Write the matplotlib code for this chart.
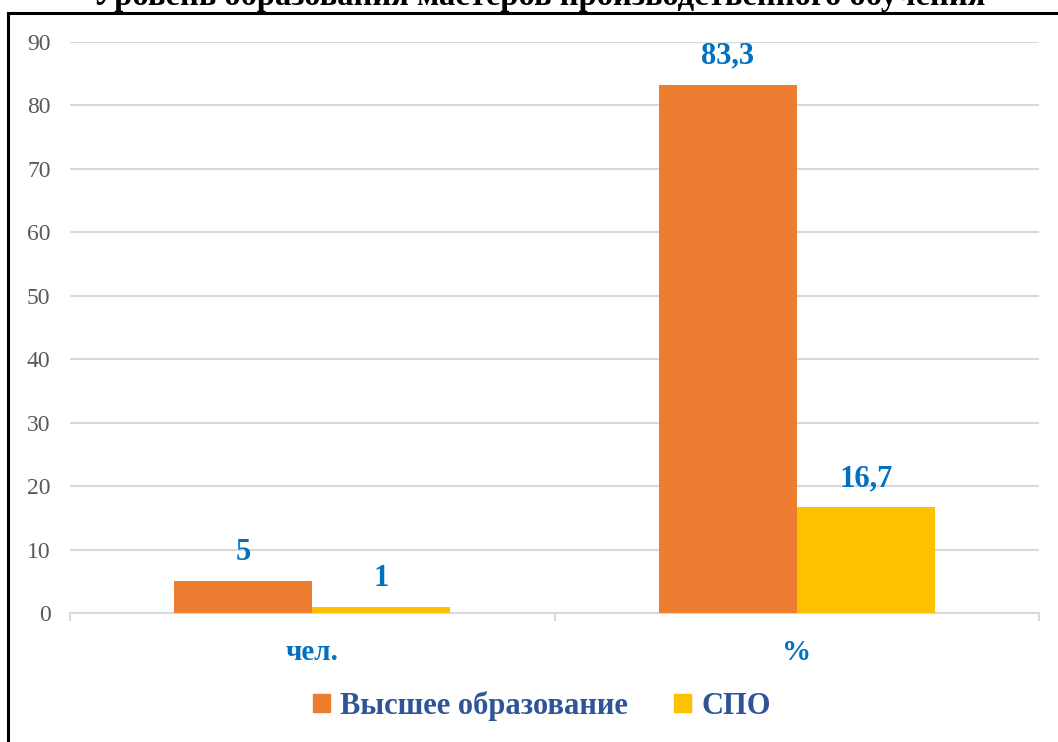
import numpy as np
import matplotlib
matplotlib.use("Agg")
import matplotlib.pyplot as plt
from matplotlib.lines import Line2D
from matplotlib.patches import Patch

# data
categories = ["чел.", "%"]
higher_edu = [5, 83.3]
spo = [1, 16.7]
series_names = ["Высшее образование", "СПО"]
title = "Уровень образования мастеров производственного обучения"

plt.rcParams["font.family"] = ["Liberation Serif", "DejaVu Serif"]

ORANGE = "#ED7D31"
YELLOW = "#FFC000"
LABEL_BLUE = "#0070C0"
LEGEND_BLUE = "#2F5597"
GRID = "#D9D9D9"


def fmt(v):
    return "{:g}".format(v).replace(".", ",")


fig = plt.figure(figsize=(10.58, 7.42), dpi=100)
ax = fig.add_axes([70 / 1058, 129 / 742, 969 / 1058, 571 / 742])

x = np.arange(len(categories))
w = 0.285
b1 = ax.bar(x - w / 2, higher_edu, w, color=ORANGE, zorder=3)
b2 = ax.bar(x + w / 2, spo, w, color=YELLOW, zorder=3)

for bars, vals in ((b1, higher_edu), (b2, spo)):
    for r, v in zip(bars, vals):
        ax.annotate(fmt(v), (r.get_x() + r.get_width() / 2, r.get_height()),
                    xytext=(0, 15), textcoords="offset points",
                    ha="center", va="baseline", fontsize=22,
                    fontweight="bold", color=LABEL_BLUE)

ax.set_xlim(-0.5, len(categories) - 0.5)
ax.set_ylim(0, 90)
ax.set_yticks(np.arange(0, 91, 10))
ax.yaxis.grid(True, color=GRID, linewidth=1.5, zorder=0)
ax.set_axisbelow(True)

for s in ["top", "right", "left"]:
    ax.spines[s].set_visible(False)
ax.spines["bottom"].set_color(GRID)
ax.spines["bottom"].set_linewidth(1.5)

ax.tick_params(axis="y", length=0, pad=14, labelsize=17, labelcolor="#595959")
ax.set_xticks(x)
ax.set_xticklabels(categories, fontsize=21, fontweight="bold", color=LABEL_BLUE)
ax.set_xticks(np.arange(-0.5, len(categories), 1.0), minor=True)
ax.tick_params(axis="x", which="major", length=0, pad=19)
ax.tick_params(axis="x", which="minor", length=6, width=1.5, color=GRID)

handles = [Patch(color=ORANGE), Patch(color=YELLOW)]
fig.legend(handles, series_names, loc="center", bbox_to_anchor=(542 / 1058, 1 - 706 / 742),
           ncol=2, frameon=False, handlelength=0.55, handleheight=0.55,
           handletextpad=0.35, columnspacing=1.5,
           prop={"size": 22, "weight": "bold"}, labelcolor=LEGEND_BLUE)

# title is partly cut off at the top of the picture, as in the source
fig.text(539 / 1058, 1 - 5 / 742, title, ha="center", va="baseline",
         fontsize=23.5, fontweight="bold", color="black")

# outer frame (left and top only visible)
fig.add_artist(Line2D([8 / 1058, 8 / 1058], [0, 1 - 13 / 742], color="black", linewidth=2.2))
fig.add_artist(Line2D([8 / 1058, 1], [1 - 13 / 742, 1 - 13 / 742], color="black", linewidth=2.2))

fig.savefig("out.png", dpi=100)
